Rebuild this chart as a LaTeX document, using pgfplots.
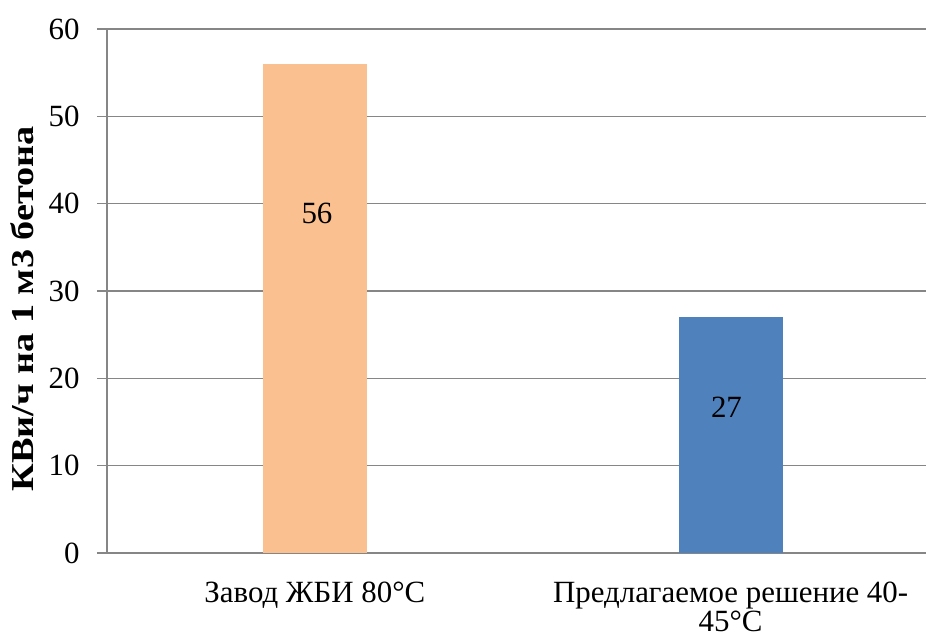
\documentclass[border=0pt]{standalone}
\usepackage{fontspec}
\setmainfont{Liberation Serif}
\usepackage{graphicx}
\usepackage{pgfplots}
\pgfplotsset{compat=1.18}

\definecolor{barorange}{RGB}{250,192,144}
\definecolor{barblue}{RGB}{79,129,189}
\definecolor{gridgray}{RGB}{134,134,134}

\newcommand{\chartfont}{\fontsize{31}{35}\selectfont}

\begin{document}
\begin{tikzpicture}
\begin{axis}[
  name=ax,
  scale only axis,
  width=819bp, height=524bp,
  xmin=-0.5, xmax=1.47,
  ymin=0, ymax=60,
  ytick={0,10,...,60},
  xtick={0,1},
  xticklabels={Завод ЖБИ 80°С, {Предлагаемое решение 40-\\45°С}},
  axis x line*=bottom,
  axis y line*=left,
  axis line style={gridgray, line width=1.5bp},
  ymajorgrids,
  grid style={gridgray, line width=1.5bp},
  major tick length=10bp,
  ytick style={gridgray, line width=1.5bp},
  xtick style={draw=none},
  tick align=outside,
  /pgf/number format/assume math mode=true,
  tick label style={font=\chartfont, text=black},
  yticklabel style={xshift=-14bp},
  xticklabel style={font=\fontsize{31}{30}\selectfont, align=center, yshift=-15bp},
  ybar,
  bar width=104bp,
  bar shift=0pt,
  clip=false,
]
\addplot[fill=barorange, draw=none] coordinates {(0,56)};
\addplot[fill=barblue, draw=none] coordinates {(1,27)};
% value labels set inside the bars
\node[font=\chartfont] at (axis cs:0.005,38.9) {56};
\node[font=\chartfont] at (axis cs:0.99,16.7) {27};
% rotated axis title
\node[font=\fontsize{32}{36}\selectfont\bfseries, rotate=90] at ([xshift=-85bp]rel axis cs:0,0.466) {\scalebox{1.2}[1]{КВи/ч на 1 м3 бетона}};
\end{axis}
\pgfresetboundingbox
\path[use as bounding box] ([xshift=-107bp,yshift=-86bp]ax.south west) rectangle ([yshift=29bp]ax.north east);
\end{tikzpicture}
\end{document}
